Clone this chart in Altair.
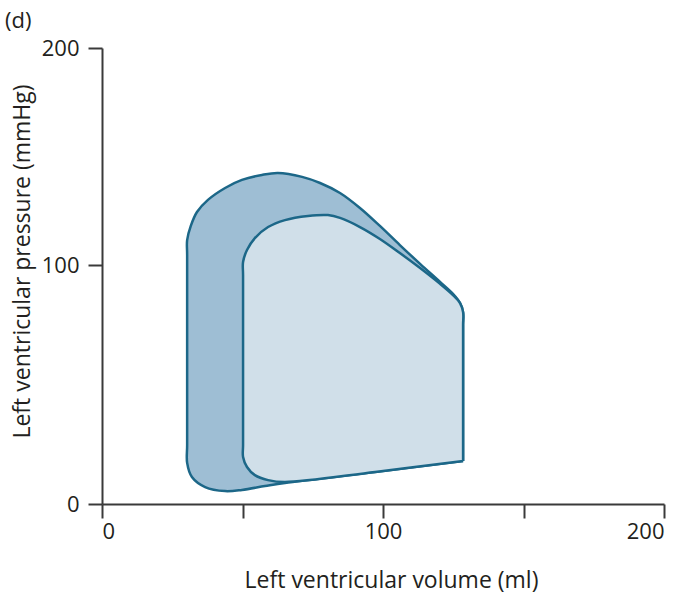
import altair as alt
import pandas as pd

# Outer pressure-volume loop (volume ml, pressure mmHg), traced in order
outer_vol = [128.5, 128.5, 128.5, 128.5, 128.5, 127.4, 124.9, 120.3, 113.2, 106.0, 98.9, 91.8, 84.7,
             77.6, 71.2, 62.6, 56.9, 49.8, 43.8, 37.7, 33.8, 31.6, 30.3, 30.3, 30.3, 30.3, 30.3, 32.0,
             36.7, 43.8, 49.8, 58.0, 65.1, 97.2, 128.5]
outer_prs = [18.0, 43.5, 68.6, 75.0, 80.3, 84.1, 87.9, 92.9, 100.5, 109.2, 118.0, 126.3, 133.2,
             137.8, 140.6, 142.4, 141.5, 139.2, 135.5, 130.0, 124.4, 118.0, 111.5, 104.6, 60.0, 24.7, 17.2,
             11.3, 7.1, 5.4, 5.9, 7.5, 8.8, 13.4, 18.0]

# Inner pressure-volume loop
inner_vol = [128.5, 128.5, 128.5, 128.5, 128.5, 127.4, 124.9, 120.3, 113.2, 106.0, 98.9, 91.8, 84.7,
             80.4, 73.3, 65.1, 59.1, 54.4, 51.6, 50.2, 50.2, 50.2, 50.2, 50.2, 51.6, 54.4, 59.1, 65.1,
             97.2, 128.5]
inner_prs = [18.0, 43.5, 68.6, 75.0, 80.3, 84.1, 87.4, 92.1, 98.7, 105.5, 112.0, 117.5, 121.7,
             123.0, 122.6, 120.7, 117.5, 112.4, 106.9, 101.4, 95.8, 60.0, 24.7, 19.7, 15.5, 12.1, 10.0,
             9.2, 13.4, 18.0]

x_ticks = [0, 50, 100, 150, 200]
y_ticks = [0, 100, 200]

outer = pd.DataFrame({"v": outer_vol, "p": outer_prs, "i": range(len(outer_vol))})
inner = pd.DataFrame({"v": inner_vol, "p": inner_prs, "i": range(len(inner_vol))})

FONT = "Open Sans"
AXC = "#3a3a3a"
STROKE = "#1c6788"

xs = alt.Scale(domain=[0, 200], nice=False, zero=False)
ys = alt.Scale(domain=[0, 100, 200], range=[456, 217, 0], nice=False, zero=False)

x_axis = alt.Axis(values=x_ticks, title="Left ventricular volume (ml)",
                  labelExpr="datum.value % 100 == 0 ? datum.label : ''",
                  titleX=289, titleY=76, titleBaseline="middle", titleAlign="center")
y_axis = alt.Axis(values=y_ticks, title="Left ventricular pressure (mmHg)",
                  titleX=-80, titleY=213, titleAngle=-90, titleBaseline="middle", titleAlign="center")

base_outer = alt.Chart(outer).mark_line(
    fill="#9ebed4", stroke=STROKE, strokeWidth=2.5, interpolate="catmull-rom", strokeJoin="round"
).encode(
    x=alt.X("v:Q", scale=xs, axis=x_axis),
    y=alt.Y("p:Q", scale=ys, axis=y_axis),
    order="i:Q",
)

base_inner = alt.Chart(inner).mark_line(
    fill="#d0dfe9", stroke=STROKE, strokeWidth=2.5, interpolate="catmull-rom", strokeJoin="round"
).encode(
    x=alt.X("v:Q", scale=xs),
    y=alt.Y("p:Q", scale=ys),
    order="i:Q",
)

label = alt.Chart(pd.DataFrame({"t": ["(d)"]})).mark_text(
    font=FONT, fontSize=22, color="#231f20", align="left", baseline="middle"
).encode(x=alt.value(-97), y=alt.value(-27), text="t:N")

chart = alt.layer(base_outer, base_inner, label).properties(
    width=562, height=456,
    autosize=alt.AutoSizeParams(type="none"),
    padding={"left": 102, "top": 48, "right": 26, "bottom": 97},
    background="white",
).configure_view(stroke=None).configure_axis(
    grid=False, domainColor=AXC, domainWidth=2, tickColor=AXC, tickWidth=2, tickSize=14,
    labelFont=FONT, labelFontSize=22, labelColor="#231f20",
    titleFont=FONT, titleFontSize=23, titleFontWeight="normal", titleColor="#231f20",
).configure_axisX(labelPadding=3).configure_axisY(labelPadding=9)

chart.save("out.html", embed_options={"renderer": "svg", "actions": False})
